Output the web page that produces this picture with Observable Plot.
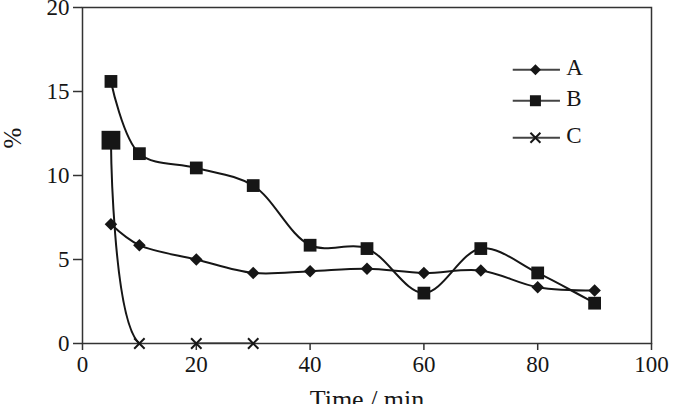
<!DOCTYPE html>
<html>
<head>
<meta charset="utf-8">
<script src="https://cdn.jsdelivr.net/npm/d3@7"></script>
<script src="https://cdn.jsdelivr.net/npm/@observablehq/plot@0.6"></script>
<style>
  html, body { margin: 0; padding: 0; background: #fff; }
  #chart svg { display: block; }
</style>
</head>
<body>
<div id="chart"></div>
<script>
// Sampling times (min) and measured percentages for each series
const time = [5, 10, 20, 30, 40, 50, 60, 70, 80, 90];
const seriesA = [7.1, 5.85, 5.0, 4.2, 4.3, 4.45, 4.2, 4.35, 3.35, 3.15];
const seriesB = [15.6, 11.3, 10.45, 9.4, 5.85, 5.65, 3.0, 5.65, 4.2, 2.4];
const timeC = [5, 10, 20, 30];
const seriesC = [12.1, 0, 0, 0];

const xTicks = [0, 20, 40, 60, 80, 100];
const yTicks = [0, 5, 10, 15, 20];
const seriesNames = ["A", "B", "C"];

const ink = "#161616";

const rowsA = time.map((t, i) => ({t, v: seriesA[i]}));
const rowsB = time.map((t, i) => ({t, v: seriesB[i]}));
const rowsC = timeC.map((t, i) => ({t, v: seriesC[i]}));

// Filled diamond with equal width and height
const diamond = {
  draw(context, size) {
    const h = Math.sqrt(size / 2);
    context.moveTo(0, -h);
    context.lineTo(h, 0);
    context.lineTo(0, h);
    context.lineTo(-h, 0);
    context.closePath();
  }
};

// Legend placed inside the frame, in data units
const legendX0 = 75.7, legendX1 = 84, legendMark = 79.6, legendText = 85.0;
const legendY = [16.3, 14.45, 12.25];
const legendRows = seriesNames.map((name, i) => ({name, y: legendY[i]}));

const chart = Plot.plot({
  width: 673,
  height: 404,
  marginLeft: 82,
  marginRight: 22,
  marginTop: 7,
  marginBottom: 61,
  style: {fontFamily: "Liberation Serif", fontSize: "23px", color: ink, background: "#fff", overflow: "visible"},
  x: {domain: [0, 100]},
  y: {domain: [0, 20]},
  marks: [
    Plot.frame({stroke: "#333", strokeWidth: 1.5}),
    Plot.axisX({ticks: xTicks, tickSize: 7, tickPadding: 5, label: null, stroke: "#333", strokeWidth: 1.5, fontSize: 23}),
    Plot.axisY({ticks: yTicks, tickSize: 9, tickPadding: 4, label: null, stroke: "#333", strokeWidth: 1.5, fontSize: 23}),
    Plot.text(["Time / min"], {frameAnchor: "bottom", lineAnchor: "top", dy: 46, fontSize: 26}),
    Plot.text(["%"], {frameAnchor: "left", rotate: -90, dx: -70, dy: -27, fontSize: 25}),

    // Series lines (smoothed)
    Plot.line(rowsA, {x: "t", y: "v", curve: "catmull-rom", stroke: ink, strokeWidth: 2}),
    Plot.line(rowsB, {x: "t", y: "v", curve: "catmull-rom", stroke: ink, strokeWidth: 2}),
    Plot.line(rowsC, {x: "t", y: "v", curve: "catmull-rom", stroke: ink, strokeWidth: 2, clip: "frame"}),

    // Markers
    Plot.dot(rowsA, {x: "t", y: "v", symbol: diamond, r: 5, fill: ink, stroke: "none"}),
    Plot.dot(rowsB, {x: "t", y: "v", symbol: "square", r: 7.2, fill: ink, stroke: "none"}),
    Plot.dot(rowsC.slice(0, 1), {x: "t", y: "v", symbol: "square", r: 10.6, fill: ink, stroke: "none"}),
    Plot.dot(rowsC.slice(1), {x: "t", y: "v", symbol: "times", r: 4.8, stroke: ink, strokeWidth: 2}),

    // Legend
    Plot.ruleY(legendRows, {y: "y", x1: legendX0, x2: legendX1, stroke: "#444", strokeWidth: 2}),
    Plot.dot(legendRows.slice(0, 1), {x: legendMark, y: "y", symbol: diamond, r: 4.4, fill: ink, stroke: "none"}),
    Plot.dot(legendRows.slice(1, 2), {x: legendMark, y: "y", symbol: "square", r: 6.2, fill: ink, stroke: "none"}),
    Plot.dot(legendRows.slice(2, 3), {x: legendMark, y: "y", symbol: "times", r: 4.6, stroke: ink, strokeWidth: 2}),
    Plot.text(legendRows, {x: legendText, y: "y", text: "name", textAnchor: "start", dy: -2, fontSize: 23})
  ]
});

document.getElementById("chart").append(chart);
</script>
</body>
</html>
